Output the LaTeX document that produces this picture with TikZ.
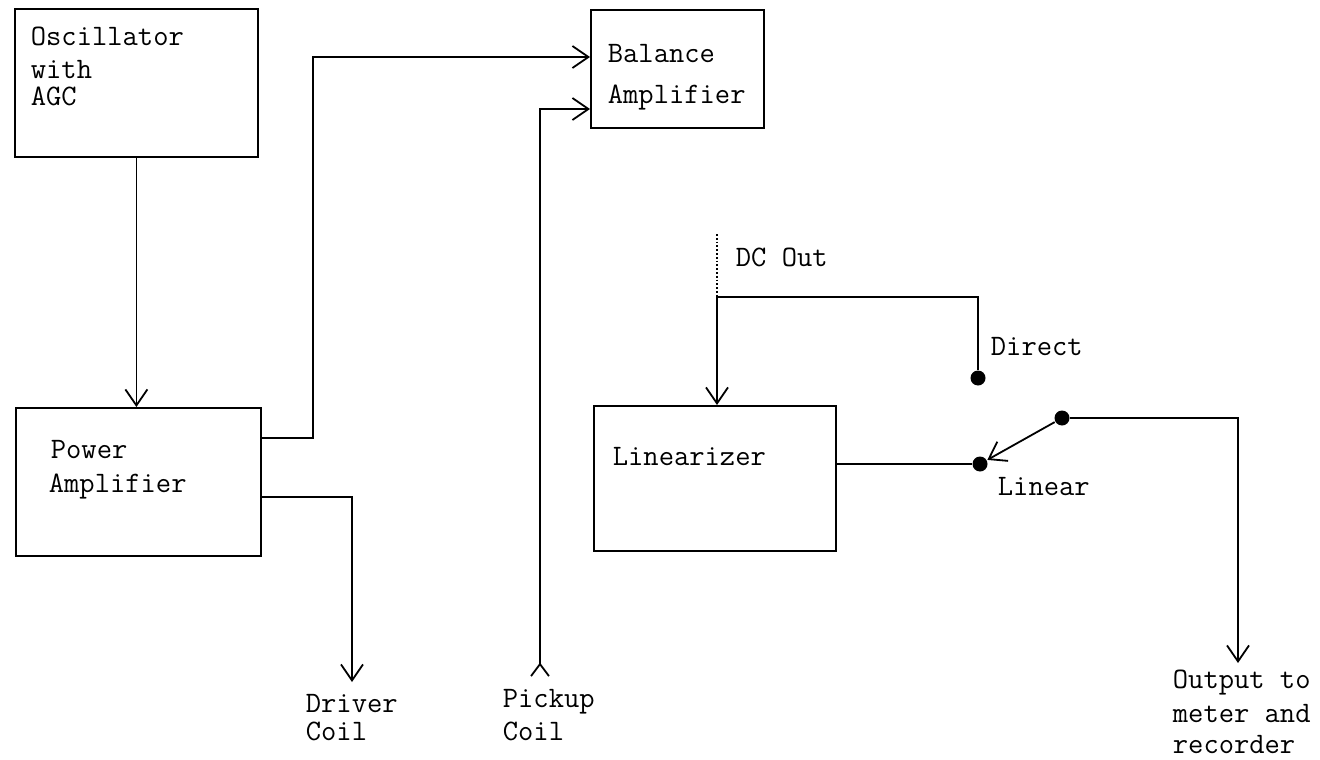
\documentclass[tikz,border=0pt]{standalone}
\usepackage{fontspec}
\usetikzlibrary{arrows.meta,calc}
\begin{document}
\begin{tikzpicture}[x=1pt,y=-1pt,
  line width=1.8pt,
  box/.style={draw, rectangle, inner sep=0pt, anchor=north west},
  lbl/.style={inner sep=0pt, anchor=base west, font=\fontsize{29.7}{32}\ttfamily},
  tip/.style={-{Straight Barb[length=16pt,width=22pt,line width=1.8pt]}},
  dot/.style={circle, fill, inner sep=0pt, minimum size=15pt}
]
\useasboundingbox (0,0) rectangle (1320,760);
% boxes
\node[box, minimum width=243pt, minimum height=148pt] (osc) at (14,8) {};
\node[box, minimum width=173pt, minimum height=118pt] (bal) at (590,9) {};
\node[box, minimum width=245pt, minimum height=148pt] (pa) at (15,407) {};
\node[box, minimum width=242pt, minimum height=145pt] (lin) at (593,405) {};
% labels
\node[lbl] (t1) at (30,46) {Oscillator};
\node[lbl] (t2) at (30,78) {with};
\node[lbl] (t3) at (30,106) {AGC};
\node[lbl] (t4) at (607,63) {Balance};
\node[lbl] (t5) at (607,103) {Amplifier};
\node[lbl] (t6) at (50,458) {Power};
\node[lbl] (t7) at (48,492) {Amplifier};
\node[lbl] (t8) at (612,465) {Linearizer};
\node[lbl] (t9) at (735,266) {DC Out};
\node[lbl] (t10) at (990,355) {Direct};
\node[lbl] (t11) at (997,495) {Linear};
\node[lbl] (t12) at (305,712) {Driver};
\node[lbl] (t13) at (305,740) {Coil};
\node[lbl] (t14) at (502,707) {Pickup};
\node[lbl] (t15) at (502,740) {Coil};
\node[lbl] (t16) at (1172,688) {Output to};
\node[lbl] (t17) at (1172,722) {meter and};
\node[lbl] (t18) at (1172,753) {recorder};
% switch dots
\node[dot] (direct) at (978,378) {};
\node[dot] (lineardot) at (980,464) {};
\node[dot] (sw) at (1062,418) {};
% free ends
\coordinate (drvtip) at (352,682);
\coordinate (pk) at (540,677);
\coordinate (dc) at (717,234);
\coordinate (dcj) at (717,297);
\coordinate (outtip) at (1238,663);
% connectors
\draw[tip] (osc.south) -- (osc.south |- pa.north);
\draw[tip] ($(pa.north east)+(0,31)$) -| ($(bal.north west)+(-277,48)$) -- ($(bal.north west)+(0,48)$);
\draw[tip] ($(pa.north east)+(0,90)$) -| (drvtip);
\draw[{Straight Barb[reversed,length=12pt,width=18pt,line width=1.8pt]}-{Straight Barb[length=16pt,width=22pt,line width=1.8pt]}] (pk) |- ($(bal.north west)+(0,100)$);
\draw[dotted] (dc) -- (dcj);
\draw[tip] (dcj) -- (dcj |- lin.north);
\draw (dcj) -| (direct);
\draw (lin.east |- lineardot) -- (lineardot);
\draw[tip] (sw) -- (lineardot);
\draw[tip] (sw) -| (outtip);
\end{tikzpicture}
\end{document}
